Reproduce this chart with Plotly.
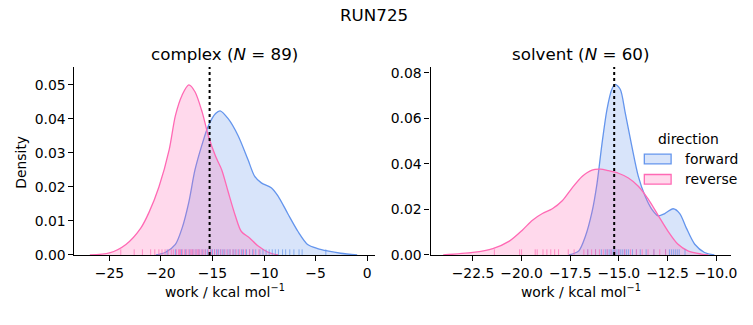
import plotly.graph_objects as go

# ---- data ----
# KDE curves (work in kcal/mol, density)
cx_fwd = [-20.5, -19.55, -18.6, -17.95, -17.3, -16.7, -16.0, -15.4, -14.7, -14.26, -13.46, -12.5,
          -11.54, -10.9, -10.26, -9.3, -8.65, -7.7, -6.7, -5.77, -4.8, -3.85, -2.56, -0.96]
cy_fwd = [0, 0.0008, 0.0031, 0.0079, 0.0155, 0.025, 0.0326, 0.038, 0.0416, 0.0424, 0.040, 0.035,
          0.0279, 0.0231, 0.0212, 0.0198, 0.0174, 0.0122, 0.0069, 0.0031, 0.0019, 0.0012, 0.0005, 0]
cx_rev = [-26.9, -25.0, -23.4, -21.96, -21.15, -20.2, -19.2, -18.6, -17.95, -17.3, -16.7, -16.0,
          -15.4, -14.7, -14.1, -13.5, -12.8, -12.2, -11.4, -10.6, -9.6, -8.65]
cy_rev = [0, 0.0006, 0.0031, 0.0079, 0.0126, 0.020, 0.031, 0.041, 0.047, 0.050, 0.048, 0.042,
          0.035, 0.029, 0.025, 0.0188, 0.0117, 0.0069, 0.005, 0.0027, 0.0008, 0]

sx_fwd = [-17.57, -17.06, -16.72, -16.38, -16.12, -15.87, -15.61, -15.36, -15.19, -14.93, -14.68,
          -14.34, -14.0, -13.66, -13.32, -12.98, -12.64, -12.21, -11.87, -11.53, -11.1, -10.6, -10.09]
sy_fwd = [0, 0.0018, 0.0082, 0.0189, 0.0316, 0.0487, 0.064, 0.0728, 0.0749, 0.0728, 0.0628,
          0.048, 0.0345, 0.026, 0.0203, 0.0172, 0.0182, 0.0203, 0.0182, 0.0118, 0.0047, 0.0011, 0]
sx_rev = [-24.03, -22.5, -21.48, -20.63, -19.95, -19.44, -18.93, -18.42, -17.91, -17.4, -16.89,
          -16.38, -15.95, -15.53, -15.02, -14.51, -14.0, -13.49, -12.98, -12.47, -11.96, -11.45,
          -10.77, -10.4]
sy_rev = [0, 0.0011, 0.0028, 0.0061, 0.011, 0.0153, 0.0182, 0.0203, 0.0238, 0.0295, 0.0345,
          0.0373, 0.0377, 0.037, 0.0359, 0.0338, 0.0302, 0.0245, 0.0174, 0.0104, 0.0047, 0.0018,
          0.0004, 0]

# individual work values (rug)
rug_c_fwd = [-19.4, -18.6, -18.0, -17.6, -17.2, -16.9, -16.6, -16.3, -16.0, -15.7, -15.5, -15.2,
             -15.0, -14.8, -14.6, -14.4, -14.2, -14.0, -13.8, -13.5, -13.3, -13.0, -12.8, -12.5,
             -12.2, -12.0, -11.7, -11.4, -11.1, -10.8, -10.4, -10.1, -9.8, -9.5, -9.2, -8.9,
             -8.6, -8.2, -7.9, -7.5, -7.1, -6.6, -6.3, -4.0]
rug_c_rev = [-23.9, -22.6, -21.8, -21.0, -20.6, -20.2, -19.9, -19.6, -19.3, -19.0, -18.8, -18.5,
             -18.3, -18.2, -18.1, -17.9, -17.7, -17.5, -17.3, -17.1, -17.0, -16.9, -16.7, -16.5,
             -16.4, -16.3, -16.1, -15.9, -15.7, -15.4, -15.1, -14.8, -14.5, -14.2, -13.9, -13.6,
             -13.3, -13.0, -12.7, -12.4, -12.1, -11.8, -11.4, -11.0, -10.5]
rug_s_fwd = [-16.6, -16.2, -15.9, -15.7, -15.6, -15.5, -15.4, -15.3, -15.25, -15.2, -15.1, -15.0,
             -14.9, -14.8, -14.7, -14.6, -14.5, -14.3, -14.1, -13.9, -13.6, -13.2, -12.6, -12.4,
             -12.3, -12.2, -12.1, -12.0, -11.9, -11.6]
rug_s_rev = [-21.4, -20.1, -20.0, -19.3, -19.2, -18.9, -18.7, -18.5, -18.3, -18.1, -17.6, -17.3,
             -16.8, -16.6, -16.4, -16.2, -16.0, -15.8, -15.6, -15.4, -15.2, -15.0, -14.7, -14.4,
             -14.1, -13.8, -13.5, -13.2, -12.9, -12.6]

# free energy estimates (dotted lines)
dg_complex = -15.28
dg_solvent = -15.24

directions = ["forward", "reverse"]

x1_ticks = [-25, -20, -15, -10, -5, 0]
x2_ticks = [-22.5, -20.0, -17.5, -15.0, -12.5, -10.0]
y1_ticks = [0.00, 0.01, 0.02, 0.03, 0.04, 0.05]
y2_ticks = [0.00, 0.02, 0.04, 0.06, 0.08]

BLUE = "cornflowerblue"
PINK = "hotpink"
BLUE_F = "rgba(100,149,237,0.25)"
PINK_F = "rgba(255,105,180,0.25)"
BLUE_R = "rgba(100,149,237,0.7)"
PINK_R = "rgba(255,105,180,0.7)"
FONT = "DejaVu Sans"

x1_range = [-28.4, 0.77]
x2_range = [-24.68, -9.23]
y1_range = [0, 0.0553]
y2_range = [0, 0.0826]

fig = go.Figure()


def add_kde(x, y, line, fill, name, xa, ya):
    fig.add_trace(go.Scatter(x=x, y=y, mode="lines", fill="tozeroy", fillcolor=fill,
                             line=dict(color=line, width=1.3, shape="spline", smoothing=0.8),
                             name=name, showlegend=False,
                             xaxis=xa, yaxis=ya, hoverinfo="skip"))


def add_rug(vals, color, height, xa, ya):
    xs, ys = [], []
    for v in vals:
        xs += [v, v, None]
        ys += [0, height, None]
    fig.add_trace(go.Scatter(x=xs, y=ys, mode="lines", line=dict(color=color, width=1),
                             showlegend=False, xaxis=xa, yaxis=ya, hoverinfo="skip"))


add_kde(cx_fwd, cy_fwd, BLUE, BLUE_F, "forward", "x", "y")
add_kde(cx_rev, cy_rev, PINK, PINK_F, "reverse", "x", "y")
add_kde(sx_fwd, sy_fwd, BLUE, BLUE_F, "forward", "x2", "y2")
add_kde(sx_rev, sy_rev, PINK, PINK_F, "reverse", "x2", "y2")
add_rug(rug_c_fwd, BLUE_R, 0.03 * y1_range[1], "x", "y")
add_rug(rug_c_rev, PINK_R, 0.03 * y1_range[1], "x", "y")
add_rug(rug_s_fwd, BLUE_R, 0.03 * y2_range[1], "x2", "y2")
add_rug(rug_s_rev, PINK_R, 0.03 * y2_range[1], "x2", "y2")

for xr, yr, dg in (("x", "y", dg_complex), ("x2", "y2", dg_solvent)):
    fig.add_shape(type="line", xref=xr, yref=yr + " domain", x0=dg, x1=dg, y0=0, y1=1,
                  line=dict(color="black", width=2, dash="dot"))

W, H = 753, 325
dom_y = [(H - 261) / H, (H - 67) / H]
dom_x1 = [75 / W, 378 / W]
dom_x2 = [434 / W, 737 / W]


def fmt(v, dec):
    s = f"{abs(v):.{dec}f}"
    return ("\u2212" + s) if v < 0 else s


axis_common = dict(showgrid=False, zeroline=False, showline=True, linecolor="black",
                   linewidth=1.1, ticks="outside", ticklen=5, tickwidth=1.1, tickcolor="black",
                   tickfont=dict(family=FONT, size=13.9, color="black"), mirror=False)

fig.update_layout(
    width=W, height=H, margin=dict(l=0, r=0, t=0, b=0),
    paper_bgcolor="white", plot_bgcolor="white",
    font=dict(family=FONT, size=13.9, color="black"),
    showlegend=False,
    xaxis=dict(domain=dom_x1, range=x1_range, tickvals=x1_ticks,
               ticktext=[fmt(v, 0) for v in x1_ticks], anchor="y", **axis_common),
    yaxis=dict(domain=dom_y, range=y1_range, tickvals=y1_ticks,
               ticktext=[fmt(v, 2) for v in y1_ticks], anchor="x", **axis_common),
    xaxis2=dict(domain=dom_x2, range=x2_range, tickvals=x2_ticks,
                ticktext=[fmt(v, 1) for v in x2_ticks], anchor="y2", **axis_common),
    yaxis2=dict(domain=dom_y, range=y2_range, tickvals=y2_ticks,
                ticktext=[fmt(v, 2) for v in y2_ticks], anchor="x2", **axis_common),
)

# legend (drawn as patches + labels, like matplotlib's)
legend_items = [(directions[0], BLUE, BLUE_F, 162), (directions[1], PINK, PINK_F, 183)]
for label, lc, fc, yc in legend_items:
    fig.add_shape(type="rect", xref="paper", yref="paper",
                  x0=649.5 / W, x1=676.5 / W, y0=1 - (yc + 5) / H, y1=1 - (yc - 5) / H,
                  line=dict(color=lc, width=1.3), fillcolor=fc)
    fig.add_annotation(text=label, x=688 / W, y=1 - yc / H, xref="paper", yref="paper",
                       showarrow=False, xanchor="left", yanchor="middle",
                       font=dict(family=FONT, size=13.9, color="black"))

n_c = len(rug_c_fwd) + len(rug_c_rev)
n_s = len(rug_s_fwd) + len(rug_s_rev)
ann = [
    dict(text="RUN725", x=0.5, y=1 - 13 / H, size=16.7, angle=0),
    dict(text=f"complex (<i>N</i> = {n_c})", x=(dom_x1[0] + dom_x1[1]) / 2, y=1 - 54 / H, size=16.7, angle=0),
    dict(text=f"solvent (<i>N</i> = {n_s})", x=(dom_x2[0] + dom_x2[1]) / 2, y=1 - 54 / H, size=16.7, angle=0),
    dict(text="work / kcal mol<sup>\u22121</sup>", x=(dom_x1[0] + dom_x1[1]) / 2, y=1 - 298 / H, size=13.9, angle=0),
    dict(text="work / kcal mol<sup>\u22121</sup>", x=(dom_x2[0] + dom_x2[1]) / 2, y=1 - 298 / H, size=13.9, angle=0),
    dict(text="Density", x=21 / W, y=1 - 165 / H, size=13.9, angle=-90),
    dict(text="direction", x=694.5 / W, y=1 - 141 / H, size=13.9, angle=0),
]
for a in ann:
    fig.add_annotation(text=a["text"], x=a["x"], y=a["y"], xref="paper", yref="paper",
                       showarrow=False, xanchor="center", yanchor="middle", textangle=a["angle"],
                       font=dict(family=FONT, size=a["size"], color="black"))

fig.write_html("out.html")
